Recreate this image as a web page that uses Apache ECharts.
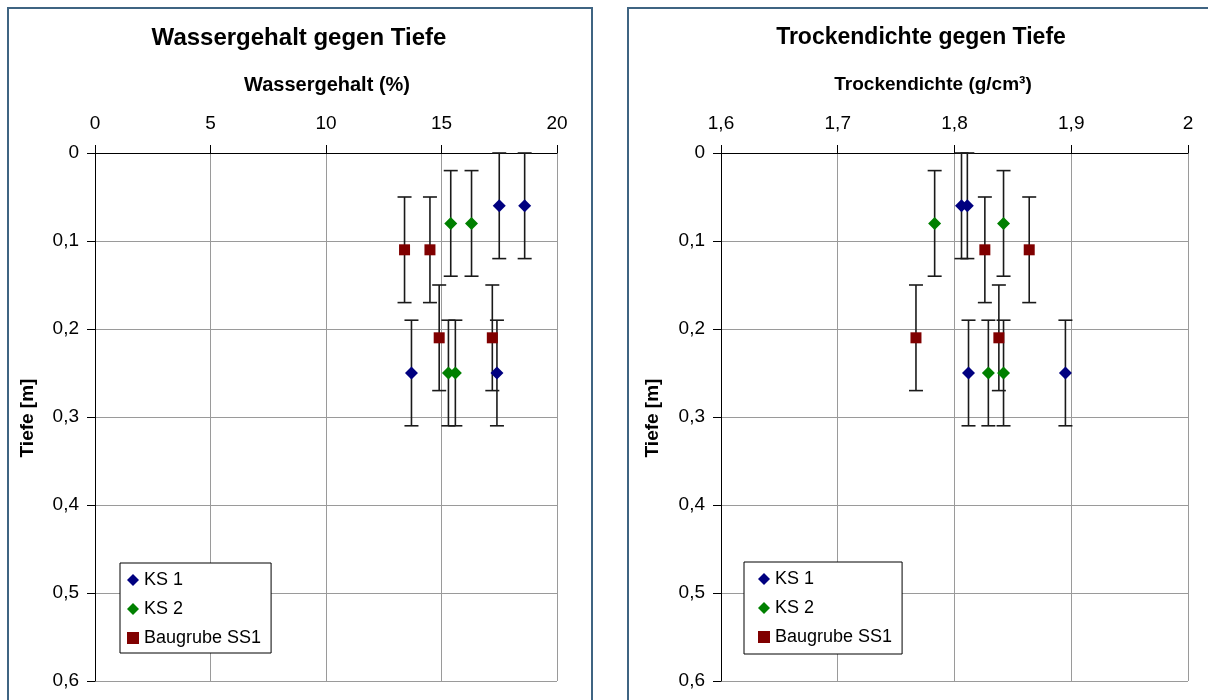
<!DOCTYPE html>
<html>
<head>
<meta charset="utf-8">
<script src="https://cdn.jsdelivr.net/npm/echarts@6/dist/echarts.min.js"></script>
<style>
html,body{margin:0;padding:0;background:#fff;}
#chart{width:1208px;height:700px;}
</style>
</head>
<body>
<div id="chart"></div>
<script>
// ---- Data ----
const seriesNames = ['KS 1', 'KS 2', 'Baugrube SS1'];
// depth (m) of each point
const depthKS1 = [0.06, 0.06, 0.25, 0.25];
const depthKS2 = [0.08, 0.08, 0.25, 0.25];
const depthSS1 = [0.11, 0.11, 0.21, 0.21];
// depth error (± m)
const depthErrKS1 = [0.06, 0.06, 0.06, 0.06];
const depthErrKS2 = [0.06, 0.06, 0.06, 0.06];
const depthErrSS1 = [0.06, 0.06, 0.06, 0.06];
// water content (%)
const waterKS1 = [17.5, 18.6, 13.7, 17.4];
const waterKS2 = [15.4, 16.3, 15.3, 15.6];
const waterSS1 = [13.4, 14.5, 14.9, 17.2];
// dry density (g/cm³)
const densKS1 = [1.806, 1.811, 1.812, 1.895];
const densKS2 = [1.783, 1.842, 1.829, 1.842];
const densSS1 = [1.826, 1.864, 1.767, 1.838];
// axis ticks
const waterTicks = [0, 5, 10, 15, 20];
const densTicks = [1.6, 1.7, 1.8, 1.9, 2.0];
const depthTicks = [0, 0.1, 0.2, 0.3, 0.4, 0.5, 0.6];

const colors = ['#000080', '#008000', '#800000'];
const symbols = ['diamond', 'diamond', 'rect'];
const symSizes = [13, 13, 11];
const FONT = 'Liberation Sans';

function commaFmt(v) {
  return String(Math.round(v * 10) / 10).replace('.', ',');
}

const depthSets = [depthKS1, depthKS2, depthSS1];
const errSets = [depthErrKS1, depthErrKS2, depthErrSS1];
const waterSets = [waterKS1, waterKS2, waterSS1];
const densSets = [densKS1, densKS2, densSS1];

function pts(xs, ys) { return xs.map((x, i) => [x, ys[i]]); }
function errPts(xs, ys, es) { return xs.map((x, i) => [x, ys[i] - es[i], ys[i] + es[i]]); }

function errRender(params, api) {
  const x = api.value(0), lo = api.value(1), hi = api.value(2);
  const a = api.coord([x, lo]), b = api.coord([x, hi]);
  const w = 7;
  const st = { stroke: '#1a1a1a', lineWidth: 1.6 };
  return {
    type: 'group',
    children: [
      { type: 'line', shape: { x1: a[0], y1: a[1], x2: b[0], y2: b[1] }, style: st },
      { type: 'line', shape: { x1: a[0] - w, y1: a[1], x2: a[0] + w, y2: a[1] }, style: st },
      { type: 'line', shape: { x1: b[0] - w, y1: b[1], x2: b[0] + w, y2: b[1] }, style: st }
    ]
  };
}

const series = [];
[waterSets, densSets].forEach((sets, g) => {
  sets.forEach((xs, k) => {
    series.push({
      type: 'custom', name: 'err' + g + k, xAxisIndex: g, yAxisIndex: g,
      renderItem: errRender, encode: { x: 0, y: [1, 2] },
      data: errPts(xs, depthSets[k], errSets[k]), z: 3, silent: true
    });
  });
  sets.forEach((xs, k) => {
    series.push({
      type: 'scatter', name: seriesNames[k], xAxisIndex: g, yAxisIndex: g,
      symbol: symbols[k], symbolSize: symSizes[k],
      itemStyle: { color: colors[k], opacity: 1 },
      data: pts(xs, depthSets[k]), z: 5
    });
  });
});

function xAxisCfg(gi, ticks, fmt) {
  const iv = Math.round((ticks[1] - ticks[0]) * 1000) / 1000;
  return {
    gridIndex: gi, type: 'value', position: 'top',
    min: ticks[0], max: ticks[ticks.length - 1], interval: iv,
    axisLine: { show: true, onZero: false, lineStyle: { color: '#000', width: 1 } },
    axisTick: { show: true, inside: false, length: 8, lineStyle: { color: '#000' } },
    axisLabel: { color: '#000', fontSize: 19, fontFamily: FONT, margin: 20, formatter: fmt },
    splitLine: { show: true, lineStyle: { color: '#9a9a9a', width: 1 } }
  };
}
function yAxisCfg(gi) {
  return {
    gridIndex: gi, type: 'value', inverse: true,
    min: depthTicks[0], max: depthTicks[depthTicks.length - 1], interval: 0.1,
    axisLine: { show: true, onZero: false, lineStyle: { color: '#000', width: 1 } },
    axisTick: { show: true, inside: false, length: 8, lineStyle: { color: '#000' } },
    axisLabel: { color: '#000', fontSize: 19, fontFamily: FONT, margin: 16, formatter: commaFmt },
    splitLine: { show: true, lineStyle: { color: '#9a9a9a', width: 1 } }
  };
}

function legendCfg(left, top, pad) {
  return {
    data: seriesNames.map((n, i) => ({ name: n, icon: symbols[i] })),
    orient: 'vertical', left: left, top: top,
    itemWidth: 12, itemHeight: 12, itemGap: 11,
    padding: pad,
    backgroundColor: '#fff', borderColor: '#000', borderWidth: 1,
    textStyle: { color: '#000', fontSize: 18, fontFamily: FONT },
    selectedMode: false
  };
}

function txt(x, y, s, size, rot) {
  return {
    type: 'text', x: x, y: y, rotation: rot || 0, z: 10,
    style: { text: s, fill: '#000', fontSize: size, fontWeight: 'bold', fontFamily: FONT, align: 'center', verticalAlign: 'middle' }
  };
}

const chart = echarts.init(document.getElementById('chart'), null, { renderer: 'canvas' });
chart.setOption({
  animation: false,
  backgroundColor: '#fff',
  textStyle: { fontFamily: FONT },
  grid: [
    { left: 95, top: 153, width: 462, height: 528 },
    { left: 721, top: 153, width: 467, height: 528 }
  ],
  xAxis: [xAxisCfg(0, waterTicks, v => String(v)), xAxisCfg(1, densTicks, commaFmt)],
  yAxis: [yAxisCfg(0), yAxisCfg(1)],
  legend: [legendCfg(120, 563, [8, 10, 6, 7]), legendCfg(744, 562, [8, 10, 8, 14])],
  series: series,
  graphic: [
    { type: 'rect', shape: { x: 8, y: 8, width: 584, height: 720 }, style: { fill: 'none', stroke: '#3f6482', lineWidth: 2 }, z: 0 },
    { type: 'rect', shape: { x: 628, y: 8, width: 600, height: 720 }, style: { fill: 'none', stroke: '#3f6482', lineWidth: 2 }, z: 0 },
    txt(299, 38, 'Wassergehalt gegen Tiefe', 24),
    txt(327, 85, 'Wassergehalt (%)', 20),
    txt(28, 418, 'Tiefe [m]', 19, Math.PI / 2),
    txt(921, 38, 'Trockendichte gegen Tiefe', 23),
    txt(933, 85, 'Trockendichte (g/cm³)', 19),
    txt(653, 418, 'Tiefe [m]', 19, Math.PI / 2)
  ]
});
</script>
</body>
</html>
